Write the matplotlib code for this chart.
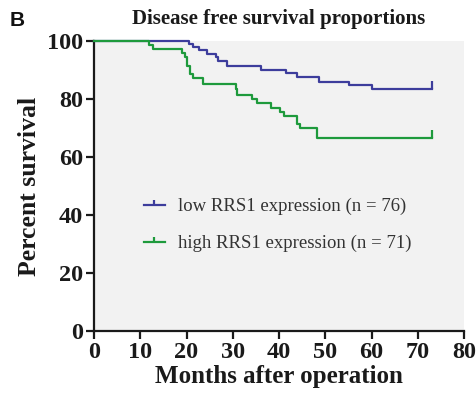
"""Disease free survival, low vs high RRS1 expression (Kaplan-Meier)."""
import matplotlib

matplotlib.use("Agg")
import matplotlib.pyplot as plt
from matplotlib.lines import Line2D
from matplotlib.path import Path

# step curves (months, percent surviving)
low_months = [0, 20.6, 21.5, 22.6, 24.4, 26.4, 26.9, 28.7, 36.0, 41.6, 43.8, 48.6, 55.1, 60.0, 73.0]
low_surv = [100, 99.0, 98.0, 96.8, 95.6, 94.4, 93.1, 91.2, 90.0, 88.8, 87.5, 86.0, 84.8, 83.3, 83.3]

high_months = [0, 12.0, 12.8, 19.0, 19.7, 20.0, 20.8, 21.5, 23.6, 30.7, 31.0, 34.1, 35.2,
               38.3, 40.2, 41.1, 43.8, 44.5, 48.1, 73.0]
high_surv = [100, 98.6, 97.2, 95.8, 94.4, 91.5, 88.7, 87.3, 85.2, 83.3, 81.5, 80.0, 78.5,
             77.0, 75.5, 74.0, 71.5, 70.0, 66.5, 66.5]

labels = ["low RRS1 expression (n = 76)", "high RRS1 expression (n = 71)"]
colors = ["#3d3d9c", "#1e9a3c"]

x_ticks = list(range(0, 81, 10))
y_ticks = list(range(0, 101, 20))

SERIF = ["Liberation Serif", "DejaVu Serif"]
# censor tick: short vertical line going up from the curve
CENSOR = Path([(0, 0), (0, 1)], [Path.MOVETO, Path.LINETO])

fig = plt.figure(figsize=(4.77, 3.97), dpi=100)
ax = fig.add_axes([0.197, 0.166, 0.776, 0.731])
ax.set_facecolor("#f2f2f2")

for months, surv, col in [(low_months, low_surv, colors[0]), (high_months, high_surv, colors[1])]:
    ax.step(months, surv, where="post", color=col, linewidth=1.6, clip_on=False, zorder=3)
    ax.plot(months[-1], surv[-1], marker=CENSOR, color=col, markersize=11,
            markeredgewidth=1.6, linestyle="none", clip_on=False, zorder=3)

ax.set_xlim(0, 80)
ax.set_ylim(0, 100)
ax.set_xticks(x_ticks)
ax.set_yticks(y_ticks)

for side in ("top", "right"):
    ax.spines[side].set_visible(False)
for side in ("left", "bottom"):
    ax.spines[side].set_linewidth(1.6)
    ax.spines[side].set_color("#1a1a1a")
ax.tick_params(direction="out", length=6, width=1.6, color="#1a1a1a", pad=2)

for lbl in ax.get_xticklabels() + ax.get_yticklabels():
    lbl.set_fontfamily(SERIF)
    lbl.set_fontweight("bold")
    lbl.set_fontsize(17.5)
    lbl.set_color("#1a1a1a")

ax.set_xlabel("Months after operation", family=SERIF, fontweight="bold", fontsize=18,
              color="#1a1a1a", labelpad=1)
ax.set_ylabel("Percent survival", family=SERIF, fontweight="bold", fontsize=18.5,
              color="#1a1a1a", labelpad=4)
ax.set_title("Disease free survival proportions", family=SERIF, fontweight="bold",
             fontsize=15, color="#1a1a1a", pad=12)

handles = [Line2D([0], [0], color=c, linewidth=1.6, marker=CENSOR, markersize=7,
                  markeredgewidth=1.6) for c in colors]
ax.legend(handles, labels, loc="center left", bbox_to_anchor=(0.09, 0.365), frameon=False,
          prop={"family": SERIF, "size": 13.5}, handlelength=1.1, handletextpad=0.7,
          labelspacing=1.05, labelcolor="#333333")

fig.text(0.02, 0.948, "B", family=["Liberation Sans", "DejaVu Sans"], fontweight="bold",
         fontsize=15, color="#111111", va="center")

fig.savefig("out.png", dpi=100)
